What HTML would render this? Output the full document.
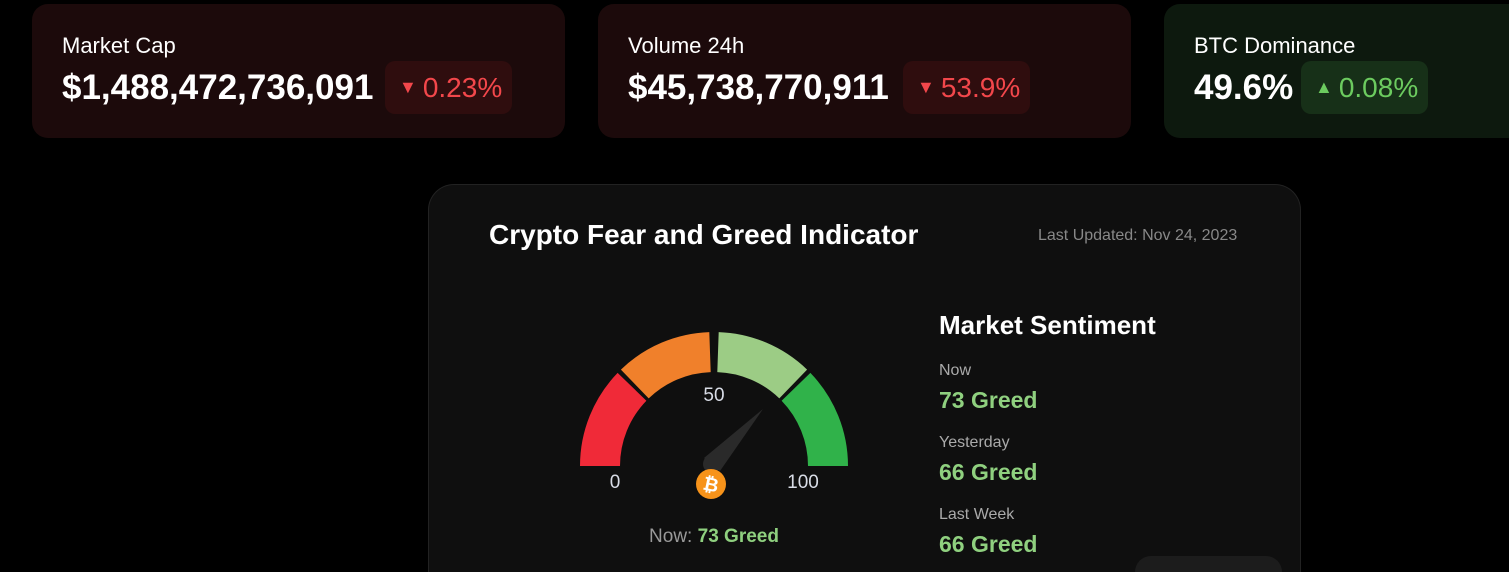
<!DOCTYPE html>
<html style="overflow:hidden;height:572px"><head><meta charset="utf-8"><style>
*{box-sizing:border-box;margin:0;padding:0}
body{width:1509px;height:572px;background:#000;overflow:hidden;position:relative;font-family:"Liberation Sans",sans-serif;color:#fff}
.card{position:absolute;top:4px;height:134px;border-radius:16px;padding:0 30px}
.card .t{position:absolute;left:30px;top:29px;font-size:22px}
.card .v{position:absolute;left:30px;top:64px;font-size:35px;font-weight:bold;letter-spacing:0px}
.badge{position:absolute;top:57px;height:53px;border-radius:10px;font-size:28px;line-height:53px;padding:0 10px 0 14px}
.red{background:#1c0a0b}.red .badge{background:#2f0d0e;color:#f2474b}
.grn{background:#0d190e}.grn .badge{background:#173018;color:#6ccb5f}
.tri{font-size:18px;vertical-align:4px;margin-right:6px}
.panel{position:absolute;left:428px;top:184px;width:873px;height:388px;background:#0f0f0f;border:1px solid #222;border-bottom:none;border-radius:26px 26px 0 0}
.lbl{position:absolute;font-size:16px;color:#aaa}
.gv{position:absolute;font-size:23px;font-weight:bold;color:#8fd07f}
</style></head><body>
<div class="card red" style="left:32px;width:533px"><div class="t">Market Cap</div><div class="v">$1,488,472,736,091</div><div class="badge" style="left:353px"><span class="tri">▼</span>0.23%</div></div>
<div class="card red" style="left:598px;width:533px"><div class="t">Volume 24h</div><div class="v">$45,738,770,911</div><div class="badge" style="left:305px"><span class="tri">▼</span>53.9%</div></div>
<div class="card grn" style="left:1164px;width:380px"><div class="t">BTC Dominance</div><div class="v">49.6%</div><div class="badge" style="left:137px"><span class="tri">▲</span>0.08%</div></div>
<div class="panel"></div>
<div style="position:absolute;left:489px;top:219px;font-size:28px;font-weight:bold">Crypto Fear and Greed Indicator</div>
<div style="position:absolute;left:1038px;top:227px;font-size:16px;color:#888">Last Updated: Nov 24, 2023</div>
<div style="position:absolute;left:939px;top:310px;font-size:26px;font-weight:bold">Market Sentiment</div>
<div class="lbl" style="left:939px;top:362px">Now</div><div class="gv" style="left:939px;top:387px">73 Greed</div>
<div class="lbl" style="left:939px;top:434px">Yesterday</div><div class="gv" style="left:939px;top:459px">66 Greed</div>
<div class="lbl" style="left:939px;top:506px">Last Week</div><div class="gv" style="left:939px;top:531px">66 Greed</div>
<div style="position:absolute;left:1135px;top:556px;width:147px;height:16px;border-radius:16px 16px 0 0;background:#1c1c1c"></div>
<svg style="position:absolute;left:0;top:0" width="1509" height="572">
<g fill="none" stroke-width="40">
<path d="M600,466 A114,114 0 0 1 632,386.8" stroke="#f02a38"/>
<path d="M634.8,384 A114,114 0 0 1 710,352.1" stroke="#f0802b"/>
<path d="M718,352.1 A114,114 0 0 1 793.2,384" stroke="#9ccc85"/>
<path d="M796,386.8 A114,114 0 0 1 828,466" stroke="#30b24a"/>
</g>
<path d="M704,458 L763,409 L720,471 Z" fill="#2a2a2a"/>
<circle cx="712" cy="464" r="9" fill="#2a2a2a"/>
<circle cx="711" cy="484" r="15" fill="#f7931a"/>
<text x="711" y="491" font-family="Liberation Sans" font-weight="bold" font-size="19" fill="#fff" text-anchor="middle" transform="rotate(12 711 484)">₿</text>
<g font-family="Liberation Sans" font-size="19" fill="#d8dce6" text-anchor="middle">
<text x="714" y="401">50</text><text x="615" y="488">0</text><text x="803" y="488">100</text>
</g>
<text x="714" y="542" font-family="Liberation Sans" font-size="19" text-anchor="middle"><tspan fill="#999">Now: </tspan><tspan fill="#8fd07f" font-weight="bold">73 Greed</tspan></text>
</svg>
</body></html>
